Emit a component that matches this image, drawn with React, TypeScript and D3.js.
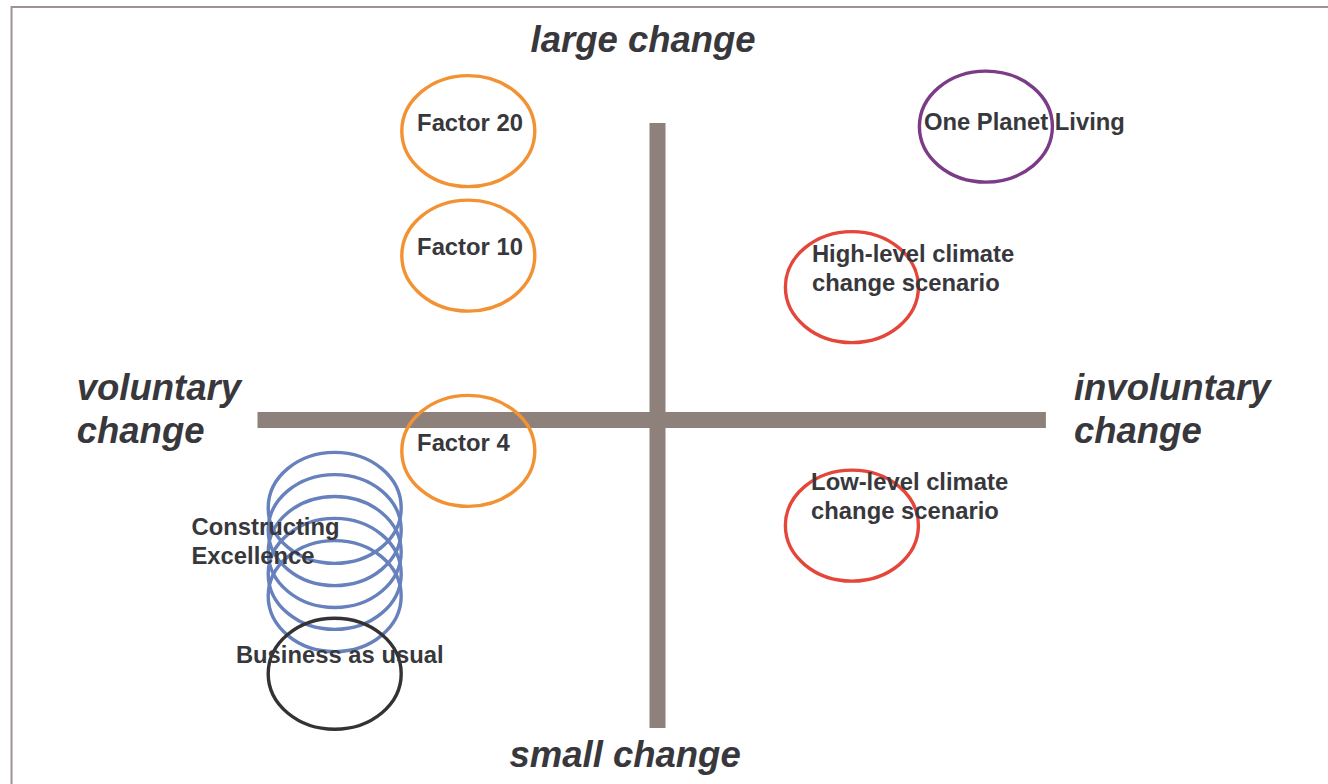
import React from "react";
import * as d3 from "d3";

// Conceptual positioning map: x = voluntary (-) .. involuntary (+), y = small (-) .. large (+) change
const itemNames = [
  "Factor 20",
  "Factor 10",
  "Factor 4",
  "One Planet Living",
  "High-level climate change scenario",
  "Low-level climate change scenario",
  "CE1",
  "CE2",
  "CE3",
  "CE4",
  "CE5",
  "Business as usual",
];
const itemX = [-47.3, -47.3, -47.3, 82.1, 48.6, 48.6, -80.7, -80.7, -80.7, -80.7, -80.7, -80.7];
const itemY = [96.3, 54.8, -10.3, 97.8, 44.3, -35.2, -29.3, -36.7, -44.0, -51.3, -58.7, -84.6];
const itemGroup = ["factor", "factor", "factor", "planet", "climate", "climate", "ce", "ce", "ce", "ce", "ce", "bau"];

// Labels (lines) and their anchor positions in the same data units
const labelLines = [
  ["Factor 20"],
  ["Factor 10"],
  ["Factor 4"],
  ["One Planet Living"],
  ["High-level climate", "change scenario"],
  ["Low-level climate", "change scenario"],
  ["Constructing", "Excellence"],
  ["Business as usual"],
];
const labelX = [-60.1, -60.1, -60.1, 66.6, 38.6, 38.4, -116.5, -105.4];
const labelY = [96.3, 55.0, -10.3, 96.7, 52.7, -23.3, -38.3, -81.0];
const labelAnchor = ["start", "start", "start", "start", "start", "start", "start", "start"];

// Axis extents (data units) and axis labels
const hAxisExtent = [-100, 97.1];
const vAxisExtent = [99, -102.7];
const axisLabelText = [["large change"], ["small change"], ["voluntary", "change"], ["involuntary", "change"]];
const axisLabelX = [-3.6, -8.1, -145.2, 104.1];
const axisLabelY = [122.7, -115.5, 6.7, 6.7];
const axisLabelAnchor = ["middle", "middle", "start", "start"];

const groupColor: Record<string, string> = {
  factor: "#f39233",
  planet: "#7b3b87",
  climate: "#e4463a",
  ce: "#6781bd",
  bau: "#333336",
};

const W = 1328;
const H = 784;
const TEXT = "#38383c";
const FONT = "'Liberation Sans', Arial, Helvetica, sans-serif";

export default function App() {
  const x = d3.scaleLinear().domain([-100, 100]).range([257.5, 1057.5]);
  const y = d3.scaleLinear().domain([-100, 100]).range([720, 120]);
  const rx = 66.5;
  const ry = 55.5;

  return (
    <div style={{ position: "fixed", left: 0, top: 0, width: W, height: H, background: "#fff", overflow: "hidden" }}>
      <svg width={W} height={H} style={{ display: "block" }}>
        <rect x={0} y={0} width={W} height={H} fill="#fff" />
        <rect x={11.5} y={7} width={W + 10} height={H + 10} fill="none" stroke="#9d9391" strokeWidth={2} />

        {/* axes */}
        <line
          x1={x(hAxisExtent[0])}
          x2={x(hAxisExtent[1])}
          y1={y(0)}
          y2={y(0)}
          stroke="#8e817c"
          strokeWidth={16}
        />
        <line
          x1={x(0)}
          x2={x(0)}
          y1={y(vAxisExtent[0])}
          y2={y(vAxisExtent[1])}
          stroke="#8e817c"
          strokeWidth={16}
        />

        {/* ellipses */}
        {itemNames.map((n, i) => (
          <ellipse
            key={n}
            cx={x(itemX[i])}
            cy={y(itemY[i])}
            rx={rx}
            ry={ry}
            fill="none"
            stroke={groupColor[itemGroup[i]]}
            strokeWidth={3.4}
          />
        ))}

        {/* item labels */}
        {labelLines.map((lines, i) => (
          <text
            key={i}
            x={x(labelX[i])}
            y={y(labelY[i])}
            textAnchor={labelAnchor[i] as any}
            fontFamily={FONT}
            fontWeight="bold"
            fontSize={23.8}
            fill={TEXT}
          >
            {lines.map((l, j) => (
              <tspan key={j} x={x(labelX[i])} dy={j === 0 ? 0 : 29}>
                {l}
              </tspan>
            ))}
          </text>
        ))}

        {/* axis labels */}
        {axisLabelText.map((lines, i) => (
          <text
            key={"a" + i}
            x={x(axisLabelX[i])}
            y={y(axisLabelY[i])}
            textAnchor={axisLabelAnchor[i] as any}
            fontFamily={FONT}
            fontWeight="bold"
            fontStyle="italic"
            fontSize={36.5}
            fill={TEXT}
          >
            {lines.map((l, j) => (
              <tspan key={j} x={x(axisLabelX[i])} dy={j === 0 ? 0 : 43}>
                {l}
              </tspan>
            ))}
          </text>
        ))}
      </svg>
    </div>
  );
}
